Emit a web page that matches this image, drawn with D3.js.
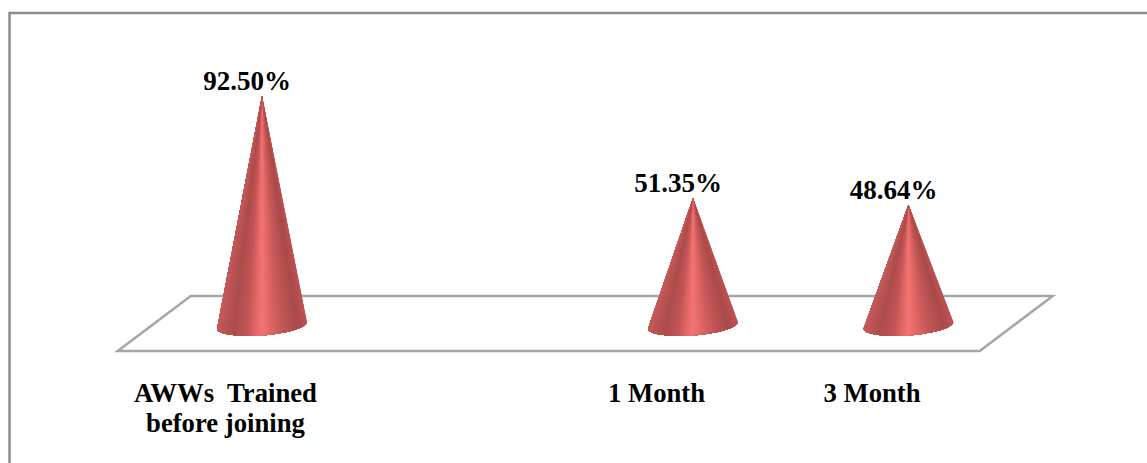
<!DOCTYPE html>
<html><head><meta charset="utf-8">
<script src="https://cdn.jsdelivr.net/npm/d3@7"></script>
<style>html,body{margin:0;padding:0;background:#fff;overflow:hidden}svg{display:block}</style>
</head><body><svg id="c" width="1147" height="463"></svg>
<script>
const categories = ["AWWs  Trained|before joining", "", "1 Month", "3 Month"];
const values = [92.5, null, 51.35, 48.64];
const valueLabels = ["92.50%", "", "51.35%", "48.64%"];

const svg = d3.select("#c");
const font = "'Liberation Serif','Times New Roman',serif";
const x = d3.scaleBand().domain(d3.range(categories.length)).range([154.25, 1016.25]).paddingInner(0.582).paddingOuter(0.291);
const y = d3.scaleLinear().domain([0, 92.5]).range([325.4, 96]);
const depthX = 36.5, floorBack = 296, floorFront = 351;

const shade = d3.scaleLinear()
  .domain([0, 0.06, 0.18, 0.33, 0.44, 0.5, 0.57, 0.72, 0.9, 1])
  .range(["#c65a5a", "#bc5454", "#ad4c4c", "#c25555", "#e66969", "#f47474", "#e66969", "#c45757", "#aa4a4a", "#c05252"]);

svg.append("path").attr("d", "M9.5,463V13H1147").attr("fill", "none").attr("stroke", "#8c8c8c").attr("stroke-width", 2.5);

const x0 = x.range()[0], x1 = x.range()[1];
svg.append("path")
  .attr("d", `M${x0 + depthX},${floorBack}L${x1 + depthX},${floorBack}L${x1 - depthX},${floorFront}L${x0 - depthX},${floorFront}Z`)
  .attr("fill", "#fff").attr("stroke", "#a6a6a6").attr("stroke-width", 2.5);

const idx = d3.range(categories.length).filter(i => values[i] != null);
const cx = i => x(i) + x.bandwidth() / 2;
const tilt = -4.4 * Math.PI / 180, ry = 10;
const basePoint = (i, th) => {
  const r = x.bandwidth() / 2, ex = r * Math.cos(th), ey = ry * Math.sin(th);
  return [cx(i) + ex * Math.cos(tilt) - ey * Math.sin(tilt), y(0) + ex * Math.sin(tilt) + ey * Math.cos(tilt)];
};
const steps = 60;
const cones = svg.selectAll("g.cone").data(idx).join("g").attr("class", "cone");
cones.selectAll("path").data(i => d3.range(steps).map(k => ({ i, k }))).join("path")
  .attr("d", ({ i, k }) => {
    // each wedge sweeps on to the far edge; the next one paints over it, so no seams show
    let p = `M${cx(i)},${y(values[i])}`;
    for (let m = k; m <= steps; m++) p += `L${basePoint(i, Math.PI * m / steps)}`;
    return p + "Z";
  })
  .attr("fill", ({ i, k }) => {
    const pt = basePoint(i, Math.PI * (k + 0.5) / steps);
    const t = 1 - (pt[0] - (cx(i) - x.bandwidth() / 2)) / x.bandwidth();
    return shade(Math.max(0, Math.min(1, 1 - t)));
  });

svg.selectAll("text.val").data(idx).join("text").attr("class", "val")
  .attr("x", i => cx(i) - 15).attr("y", i => y(values[i]) - 6)
  .attr("text-anchor", "middle").attr("font-family", font).attr("font-weight", "bold").attr("font-size", 27).attr("fill", "#000")
  .text(i => valueLabels[i]);

const cat = svg.selectAll("text.cat").data(idx).join("text").attr("class", "cat")
  .attr("text-anchor", "middle").attr("font-family", font).attr("font-weight", "bold").attr("font-size", 26.7).attr("fill", "#000")
  .attr("xml:space", "preserve").style("white-space", "pre");
cat.selectAll("tspan").data(i => categories[i].split("|").map(t => ({ t, i }))).join("tspan")
  .attr("x", d => cx(d.i) - depthX).attr("y", (d, k) => 402 + k * 30).text(d => d.t);
</script></body></html>
